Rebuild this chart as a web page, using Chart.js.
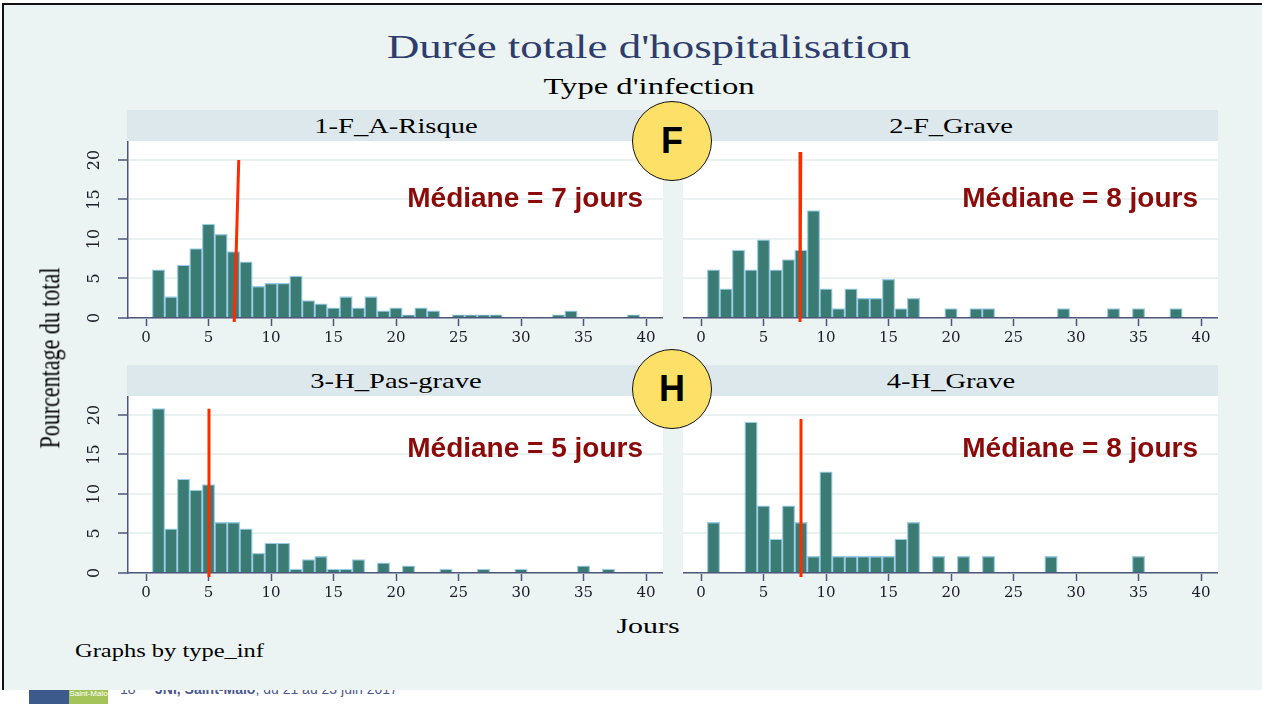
<!DOCTYPE html>
<html>
<head>
<meta charset="utf-8">
<script src="https://cdn.jsdelivr.net/npm/chart.js@4.4.1/dist/chart.umd.min.js"></script>
<style>
  body { margin: 0; width: 1262px; height: 711px; background: #fff; position: relative; overflow: hidden; font-family: "Liberation Serif", serif; }
  .abs { position: absolute; }
  .ctr { transform: translate(-50%, -50%) scaleX(1.36); white-space: nowrap; }
  #slide { left: 2px; top: 3px; width: 1260px; height: 687px; background: #ecf4f3; border-left: 2px solid #111; border-top: 2px solid #111; box-sizing: border-box; }
  .strip { background: #dde8ec; height: 31px; }
  .mediane { font: bold 28px "Liberation Sans", Arial, sans-serif; color: #8b0a0a; transform: translateY(-50%); white-space: nowrap; text-align: right; width: 300px; }
  .badge { width: 78px; height: 78px; border-radius: 50%; background: #fde068; border: 1.5px solid #111; transform: translate(-50%, -50%);
           font: bold 36px "Liberation Sans", Arial, sans-serif; color: #000; display: flex; align-items: center; justify-content: center; z-index: 5; }
  canvas { position: absolute; z-index: 2; }
</style>
</head>
<body>
<div class="abs" style="left:29px; top:684px; width:40px; height:20px; background:#3d5a8c;"></div>
<div class="abs" style="left:69px; top:684px; width:39px; height:20px; background:#a4c45a; color:#fff; font:8px 'Liberation Sans'; text-align:center; line-height:20px;">Saint-Malo</div>
<div class="abs" style="left:120px; top:681px; font:14px 'Liberation Sans', Arial; color:#4a5890; white-space:nowrap;">18<sup style="font-size:8px">ème</sup> <b>JNI, Saint-Malo</b>, du 21 au 23 juin 2017</div>
<div id="slide" class="abs"></div>

<div class="abs ctr" style="left:649px; top:47px; font-size:33px; color:#2e3d6b; z-index:3;">Durée totale d'hospitalisation</div>
<div class="abs ctr" style="left:649px; top:86px; font-size:24px; color:#000; z-index:3;">Type d'infection</div>
<div class="abs ctr" style="left:648px; top:626px; font-size:22px; color:#000; z-index:3;">Jours</div>
<div class="abs" style="left:75px; top:651px; font-size:18px; color:#000; z-index:3; transform-origin:left center; transform:translateY(-50%) scaleX(1.36); white-space:nowrap;">Graphs by type_inf</div>
<div class="abs" style="left:50px; top:358px; font-size:22px; color:#000; z-index:3; transform:translate(-50%, -50%) rotate(-90deg) scaleY(1.36); white-space:nowrap;">Pourcentage du total</div>

<div id="panels"></div>

<script>
const days = [1, 2, 3, 4, 5, 6, 7, 8, 9, 10, 11, 12, 13, 14, 15, 16, 17, 18, 19, 20,
              21, 22, 23, 24, 25, 26, 27, 28, 29, 30, 31, 32, 33, 34, 35, 36, 37, 38, 39, 40];
const fARisque = [6.1, 2.7, 6.7, 8.8, 11.9, 10.6, 8.4, 7.1, 4.0, 4.4, 4.4, 5.3, 2.2, 1.8, 1.3, 2.7, 1.3, 2.7, 0.9, 1.3,
                  0.4, 1.3, 0.9, 0, 0.4, 0.4, 0.4, 0.4, 0, 0, 0, 0, 0.4, 0.9, 0, 0, 0, 0, 0.4, 0];
const fGrave = [6.1, 3.7, 8.6, 6.1, 9.9, 6.1, 7.4, 8.6, 13.6, 3.7, 1.2, 3.7, 2.5, 2.5, 4.9, 1.2, 2.5, 0, 0, 1.2,
                0, 1.2, 1.2, 0, 0, 0, 0, 0, 1.2, 0, 0, 0, 1.2, 0, 1.2, 0, 0, 1.2, 0, 0];
const hPasGrave = [20.8, 5.6, 11.9, 10.5, 11.2, 6.4, 6.4, 5.6, 2.5, 3.8, 3.8, 0.5, 1.7, 2.1, 0.5, 0.5, 1.7, 0, 1.3, 0,
                   0.9, 0, 0, 0.5, 0, 0, 0.5, 0, 0, 0.5, 0, 0, 0, 0, 0.9, 0, 0.5, 0, 0, 0];
const hGrave = [6.4, 0, 0, 19.1, 8.5, 4.3, 8.5, 6.4, 2.1, 12.8, 2.1, 2.1, 2.1, 2.1, 2.1, 4.3, 6.4, 0, 2.1, 0,
                2.1, 0, 2.1, 0, 0, 0, 0, 2.1, 0, 0, 0, 0, 0, 0, 2.1, 0, 0, 0, 0, 0];

const panelTitles = ['1-F_A-Risque', '2-F_Grave', '3-H_Pas-grave', '4-H_Grave'];
const medianDays = [7, 8, 5, 8];
// hand-drawn red median marks: x at top, x at bottom, height at top
const medianTopX = [7.42, 7.98, 5.04, 8.0];
const medianBottomX = [7.06, 7.92, 5.04, 8.0];
const medianTopY = [20, 21, 20.8, 19.5];

const xTicks = [0, 5, 10, 15, 20, 25, 30, 35, 40];
const yTicks = [0, 5, 10, 15, 20];

const axisColor = '#4b5679';
const gridColor = '#e9f1f1';
const tickFont = { family: 'DejaVu Serif', size: 15 };

const plotBg = {
  id: 'plotBg',
  beforeDraw(chart) {
    const { ctx, chartArea: a } = chart;
    ctx.save();
    ctx.fillStyle = '#fff';
    ctx.fillRect(a.left, a.top, a.right - a.left, a.bottom - a.top);
    ctx.restore();
  }
};

const series = [fARisque, fGrave, hPasGrave, hGrave];
const container = document.getElementById('panels');

series.forEach((values, i) => {
  const left = i % 2 === 0;
  const top = i < 2 ? 141 : 396;
  const plotLeft = left ? 128 : 683;
  const canvasLeft = left ? 60 : 683;
  const plotRight = left ? 663 : 1218;

  const strip = document.createElement('div');
  strip.className = 'abs strip';
  strip.style.cssText = `left:${plotLeft - 1}px; top:${top - 31}px; width:${plotRight - plotLeft + 1}px;`;
  container.appendChild(strip);

  const title = document.createElement('div');
  title.className = 'abs ctr';
  title.style.cssText = `left:${(plotLeft + plotRight) / 2}px; top:${top - 15}px; font-size:21px; color:#000; z-index:3;`;
  title.textContent = panelTitles[i];
  container.appendChild(title);

  const label = document.createElement('div');
  label.className = 'abs mediane';
  label.style.cssText = `left:${plotRight - 20 - 300}px; top:${top + (i < 2 ? 57 : 52)}px; z-index:3;`;
  label.textContent = `Médiane = ${medianDays[i]} jours`;
  container.appendChild(label);

  const canvas = document.createElement('canvas');
  canvas.width = plotRight - canvasLeft;
  canvas.height = 209;
  canvas.style.left = canvasLeft + 'px';
  canvas.style.top = top + 'px';
  container.appendChild(canvas);

  new Chart(canvas, {
    type: 'bar',
    data: {
      datasets: [
        {
          type: 'line',
          data: [{ x: medianTopX[i], y: medianTopY[i] }, { x: medianBottomX[i], y: -0.5 }],
          borderColor: '#ff2a00',
          borderWidth: 3,
          pointRadius: 0,
          clip: false,
          order: 0
        },
        {
          data: days.map((d, k) => ({ x: d, y: values[k] })),
          backgroundColor: '#3a7b73',
          borderColor: '#9ccde6',
          borderWidth: 1.3,
          barPercentage: 1,
          categoryPercentage: 1,
          order: 1
        }
      ]
    },
    options: {
      responsive: false,
      animation: false,
      layout: { padding: 0 },
      plugins: { legend: { display: false }, tooltip: { enabled: false } },
      scales: {
        x: {
          type: 'linear',
          offset: false,
          min: -1.44,
          max: 41.36,
          afterBuildTicks: s => { s.ticks = xTicks.map(v => ({ value: v })); },
          afterFit: s => { s.height = 32; s.paddingLeft = 0; s.paddingRight = 0; },
          grid: { offset: false, drawOnChartArea: false, drawTicks: true, tickLength: 8, tickColor: axisColor, tickWidth: 1.5 },
          border: { color: axisColor, width: 1.5 },
          ticks: { color: '#1c1c28', font: tickFont, padding: 3, maxRotation: 0, autoSkip: false }
        },
        y: {
          type: 'linear',
          min: 0,
          max: 22.4,
          afterBuildTicks: s => { s.ticks = yTicks.map(v => ({ value: v })); },
          afterFit: s => { s.width = left ? 68 : 0; s.paddingTop = 0; s.paddingBottom = 0; },
          grid: { color: gridColor, lineWidth: 2, drawTicks: left, tickLength: 10, tickColor: axisColor, tickWidth: 1.5 },
          border: { display: left, color: axisColor, width: 1.5 },
          ticks: { display: left, color: '#1c1c28', font: { family: 'DejaVu Serif', size: 16 }, minRotation: 90, maxRotation: 90, crossAlign: 'center', padding: 13 }
        }
      }
    },
    plugins: [plotBg]
  });
});

['F', 'H'].forEach((letter, i) => {
  const b = document.createElement('div');
  b.className = 'abs badge';
  b.style.left = '672px';
  b.style.top = (i === 0 ? 141 : 389) + 'px';
  b.textContent = letter;
  container.appendChild(b);
});
</script>
</body>
</html>
